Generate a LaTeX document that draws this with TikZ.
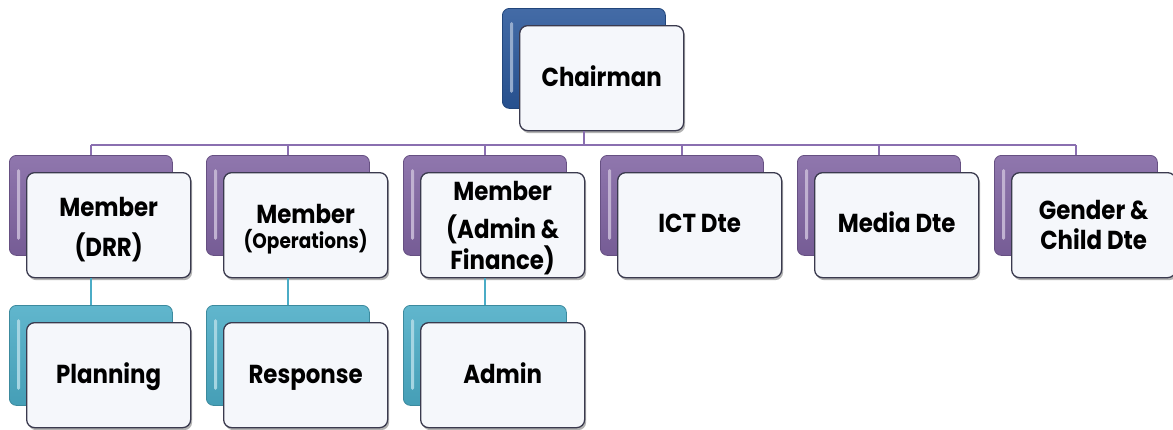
\documentclass[tikz,border=0pt]{standalone}
\usepackage{fontspec}
\setmainfont{Poppins}[FakeStretch=0.88]
\usetikzlibrary{shadows,calc}
\definecolor{chairblue}{HTML}{2A579A}
\definecolor{orgpurple}{HTML}{8064A2}
\definecolor{orgteal}{HTML}{4BACC6}
\definecolor{linepurple}{HTML}{8A6FB0}
\definecolor{lineteal}{HTML}{4BACC6}
\definecolor{frontfill}{HTML}{F5F7FB}
\definecolor{frontedge}{HTML}{3A3A4E}
\tikzset{
  backbox/.style={rectangle, rounded corners=7pt, minimum width=163pt, minimum height=100pt,
    anchor=north west, inner sep=0pt, line width=0.8pt},
  frontbox/.style={rectangle, rounded corners=8pt, minimum width=164pt, minimum height=105pt,
    anchor=north west, fill=frontfill, draw=frontedge, line width=1.3pt,
    drop shadow={shadow xshift=1.5pt, shadow yshift=-2.5pt, fill=black, opacity=0.3},
    align=center, font=\bfseries\fontsize{26}{29}\selectfont, text=black, inner sep=0pt,
    text height=18pt, text depth=1pt},
  pline/.style={draw=linepurple, line width=2.5pt},
  tline/.style={draw=lineteal, line width=2.5pt},
}
% name, x, y, colour, text height, text
\newcommand{\OrgBox}[6]{%
  \node[backbox, top color=#4!88!white, bottom color=#4!92!black, draw=#4!80!black] (#1-b) at (#2,-#3) {};
  \fill[#4!50!white, rounded corners=1.5pt] ($(#1-b.north west)+(8,-14)$) rectangle ($(#1-b.south west)+(11,16)$);
  \node[frontbox, text height=#5] (#1-f) at (#2+17,-#3-17) {#6};
}
\begin{document}
\begin{tikzpicture}[x=1pt,y=1pt]
\useasboundingbox (0,0) rectangle (1173,-429);
\OrgBox{chair}{502}{8}{chairblue}{18pt}{Chairman}
\OrgBox{m1}{9}{155}{orgpurple}{64pt}{Member\\[11pt](DRR)}
\OrgBox{m2}{206}{155}{orgpurple}{48pt}{Member\\[-4pt]{\fontsize{21}{24}\selectfont(Operations)}}
\OrgBox{m3}{403}{155}{orgpurple}{90pt}{Member\\[9pt](Admin \&\\[1pt]Finance)}
\OrgBox{m4}{600}{155}{orgpurple}{16pt}{ICT Dte}
\OrgBox{m5}{797}{155}{orgpurple}{16pt}{Media Dte}
\OrgBox{m6}{994}{155}{orgpurple}{50pt}{Gender \&\\[1pt]Child Dte}
\OrgBox{p1}{9}{305}{orgteal}{18pt}{Planning}
\OrgBox{p2}{206}{305}{orgteal}{18pt}{Response}
\OrgBox{p3}{403}{305}{orgteal}{18pt}{Admin}
\coordinate (bus) at (0,-145);
\draw[pline] (chair-b.south |- chair-f.south) -- (chair-b.south |- bus);
\draw[pline] (m1-b.north |- bus) -- (m6-b.north |- bus);
\foreach \i in {1,...,6} {\draw[pline] (m\i-b.north |- bus) -- (m\i-b.north);}
\foreach \i in {1,2,3} {\draw[tline] (m\i-b.south |- m\i-f.south) -- (p\i-b.north);}
\end{tikzpicture}
\end{document}
